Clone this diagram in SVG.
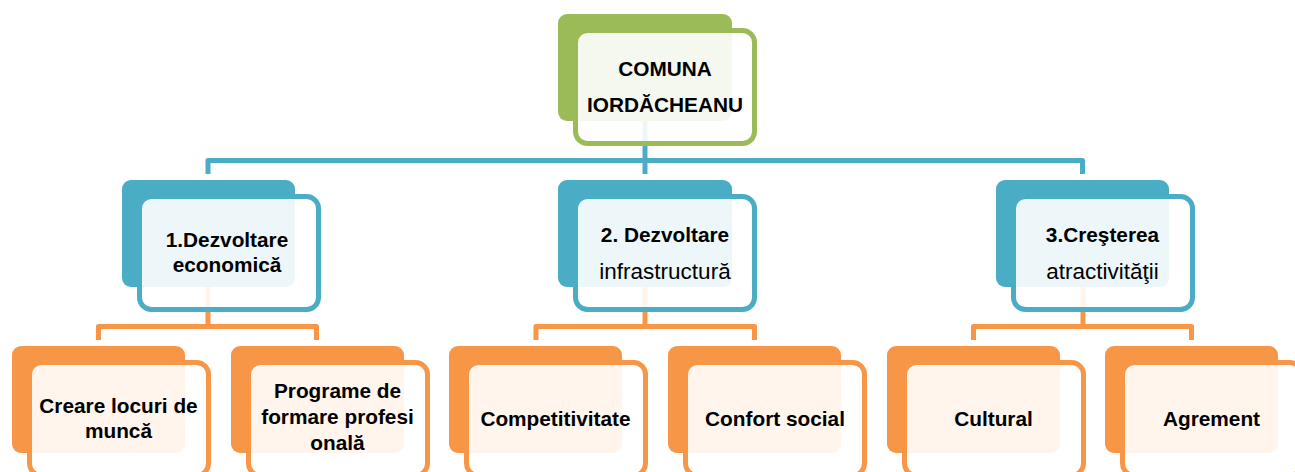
<svg xmlns="http://www.w3.org/2000/svg" width="1295" height="472" viewBox="0 0 1295 472">
<style>
text{font-family:"Liberation Sans",Arial,sans-serif;fill:#000;text-anchor:middle}
.b{font-weight:bold;font-size:20.8px}
.r{font-size:22.5px}
.conn path{fill:none;stroke-width:5;stroke-linejoin:round}
.cb{stroke:#4BACC6}
.co{stroke:#F79646}
.bk{stroke:none}
.fr{fill:#fff;fill-opacity:0.9;stroke-width:5}
.g .bk{fill:#9BBB59}.g .fr{stroke:#9BBB59}
.u .bk{fill:#4BACC6}.u .fr{stroke:#4BACC6}
.o .bk{fill:#F79646}.o .fr{stroke:#F79646}
</style>
<rect width="1295" height="472" fill="#fff"/>
<g id="connectors" class="conn">
<path class="cb" d="M208,174 V160.5 H1082.5 V174"/>
<path class="cb" d="M645,100 V174"/>
<path class="co" d="M98.5,340 V326.5 H316.5 V340"/>
<path class="co" d="M208,270 V326.5"/>
<path class="co" d="M536,340 V326.5 H754.5 V340"/>
<path class="co" d="M645,270 V326.5"/>
<path class="co" d="M973.5,340 V326.5 H1191.5 V340"/>
<path class="co" d="M1083,270 V326.5"/>
</g>
<g id="root" class="g">
<rect class="bk" x="558" y="14" width="174" height="107" rx="9"/>
<rect class="fr" x="575.5" y="30.5" width="179" height="113" rx="12"/>
<text class="b" x="665" y="76">COMUNA</text>
<text class="b" x="665" y="112">IORDĂCHEANU</text>
</g>
<g id="n1" class="u">
<rect class="bk" x="122" y="180" width="173" height="107" rx="9"/>
<rect class="fr" x="139.5" y="196.5" width="179" height="113" rx="12"/>
<text class="b" x="227" y="247">1.Dezvoltare</text>
<text class="b" x="227" y="272">economică</text>
</g>
<g id="n2" class="u">
<rect class="bk" x="558" y="180" width="174" height="107" rx="9"/>
<rect class="fr" x="575.5" y="196.5" width="179" height="113" rx="12"/>
<text class="b" x="665" y="242">2. Dezvoltare</text>
<text class="r" x="665" y="279">infrastructură</text>
</g>
<g id="n3" class="u">
<rect class="bk" x="996" y="180" width="173" height="107" rx="9"/>
<rect class="fr" x="1013.5" y="196.5" width="179" height="113" rx="12"/>
<text class="b" x="1102.5" y="242">3.Creşterea</text>
<text class="r" x="1102.5" y="279">atractivităţii</text>
</g>
<g id="n11" class="o">
<rect class="bk" x="12" y="346" width="173" height="107" rx="9"/>
<rect class="fr" x="29.5" y="362.5" width="179" height="113" rx="12"/>
<text class="b" x="118.5" y="413">Creare locuri de</text>
<text class="b" x="118.5" y="438">muncă</text>
</g>
<g id="n12" class="o">
<rect class="bk" x="231" y="346" width="173" height="107" rx="9"/>
<rect class="fr" x="248.5" y="362.5" width="179" height="113" rx="12"/>
<text class="b" x="337.5" y="398">Programe de</text>
<text class="b" x="337.5" y="424">formare profesi</text>
<text class="b" x="337.5" y="450">onală</text>
</g>
<g id="n21" class="o">
<rect class="bk" x="449" y="346" width="173" height="107" rx="9"/>
<rect class="fr" x="466.5" y="362.5" width="179" height="113" rx="12"/>
<text class="b" x="555.5" y="426">Competitivitate</text>
</g>
<g id="n22" class="o">
<rect class="bk" x="668" y="346" width="173" height="107" rx="9"/>
<rect class="fr" x="685.5" y="362.5" width="179" height="113" rx="12"/>
<text class="b" x="775" y="426">Confort social</text>
</g>
<g id="n31" class="o">
<rect class="bk" x="887" y="346" width="173" height="107" rx="9"/>
<rect class="fr" x="904.5" y="362.5" width="179" height="113" rx="12"/>
<text class="b" x="993.5" y="426">Cultural</text>
</g>
<g id="n32" class="o">
<rect class="bk" x="1105" y="346" width="173" height="107" rx="9"/>
<rect class="fr" x="1122.5" y="362.5" width="179" height="113" rx="12"/>
<text class="b" x="1211.5" y="426">Agrement</text>
</g>
</svg>
